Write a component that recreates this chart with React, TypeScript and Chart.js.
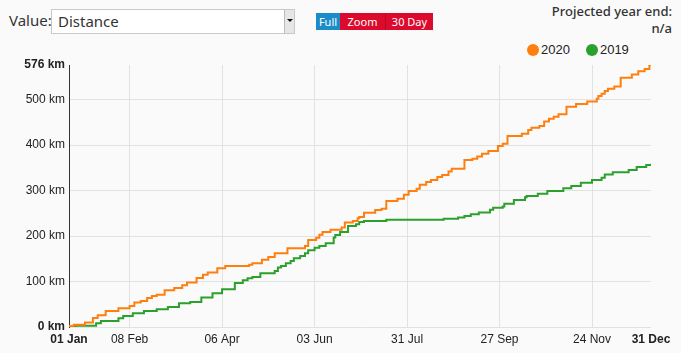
import React, { useEffect, useRef } from 'react';
import { Chart, registerables } from 'chart.js';

Chart.register(...registerables);

// Day of year (0 = 01 Jan) at which each cumulative step occurs, and the total distance (km)
const days2020 = [0, 3, 10, 15, 18, 23, 31, 38, 41, 45, 49, 52, 55, 60, 66, 71, 74, 80, 84, 87, 93, 98, 113, 115, 121, 125, 129, 137, 148, 150, 155, 157, 159, 164, 171, 173, 178, 181, 182, 185, 192, 196, 199, 206, 210, 213, 218, 220, 224, 227, 231, 234, 238, 240, 248, 253, 256, 259, 263, 269, 272, 275, 284, 288, 290, 295, 298, 301, 304, 307, 312, 318, 325, 331, 332, 334, 336, 338, 342, 346, 353, 357, 361, 364, 365];
const km2020 = [2, 5, 10, 20, 26, 35, 41, 46, 54, 57, 64, 68, 71, 81, 86, 92, 98, 108, 115, 120, 129, 134, 137, 140, 148, 154, 162, 173, 178, 191, 196, 203, 209, 214, 219, 230, 233, 239, 242, 251, 257, 260, 277, 282, 291, 299, 304, 313, 319, 323, 330, 334, 342, 348, 367, 370, 375, 381, 387, 398, 403, 420, 425, 433, 438, 442, 452, 458, 462, 468, 484, 490, 496, 502, 508, 513, 519, 524, 529, 548, 555, 562, 567, 576, 576];

const days2019 = [0, 4, 17, 20, 31, 34, 40, 47, 55, 62, 69, 76, 83, 90, 96, 104, 109, 112, 115, 120, 129, 131, 133, 136, 139, 141, 145, 148, 150, 154, 157, 161, 166, 167, 170, 175, 180, 182, 185, 199, 235, 244, 248, 252, 257, 264, 266, 272, 273, 279, 286, 287, 294, 300, 310, 315, 321, 328, 334, 336, 341, 351, 356, 362, 365];
const km2019 = [0, 3, 8, 13, 19, 24, 30, 35, 39, 44, 52, 55, 65, 74, 83, 97, 103, 107, 110, 118, 123, 131, 134, 140, 145, 151, 156, 162, 169, 174, 178, 184, 197, 202, 209, 222, 226, 231, 233, 236, 238, 241, 244, 248, 252, 258, 262, 265, 271, 279, 285, 288, 293, 299, 305, 310, 317, 323, 328, 335, 340, 345, 352, 356, 359];

const seriesNames = ['2020', '2019'];
const seriesColors = ['#ff7f0e', '#2ca02c'];

const xTickDays = [0, 38, 96, 154, 212, 270, 328, 365];
const xTickLabels = ['01 Jan', '08 Feb', '06 Apr', '03 Jun', '31 Jul', '27 Sep', '24 Nov', '31 Dec'];
const yTickValues = [0, 100, 200, 300, 400, 500, 576];
const yUnit = ' km';

const axisFont = '"Liberation Sans", Arial, sans-serif';
const uiFont = '"Noto Sans", "Open Sans", sans-serif';

export default function App() {
  const canvasRef = useRef<HTMLCanvasElement | null>(null);

  useEffect(() => {
    const canvas = canvasRef.current;
    if (!canvas) return;
    const lastX = xTickDays.length - 1;
    const lastY = yTickValues.length - 1;
    const chart = new Chart(canvas, {
      type: 'line',
      data: {
        datasets: [
          {
            label: seriesNames[0],
            data: days2020.map((d, i) => ({ x: d, y: km2020[i] })),
            borderColor: seriesColors[0],
            backgroundColor: seriesColors[0],
            borderWidth: 2,
            stepped: true,
            pointRadius: 0,
            fill: false,
          },
          {
            label: seriesNames[1],
            data: days2019.map((d, i) => ({ x: d, y: km2019[i] })),
            borderColor: seriesColors[1],
            backgroundColor: seriesColors[1],
            borderWidth: 2,
            stepped: true,
            pointRadius: 0,
            fill: false,
          },
        ],
      },
      options: {
        animation: false,
        responsive: false,
        maintainAspectRatio: false,
        layout: { padding: { left: 0, right: 30, top: 25, bottom: 0 } },
        plugins: { legend: { display: false }, tooltip: { enabled: false } },
        scales: {
          x: {
            type: 'linear',
            min: 0,
            max: 365,
            afterBuildTicks: (s: any) => {
              s.ticks = xTickDays.map((v) => ({ value: v }));
            },
            afterFit: (s: any) => {
              s.height = 26;
            },
            ticks: {
              autoSkip: false,
              maxRotation: 0,
              padding: 5,
              color: '#222',
              font: (ctx: any) => ({
                family: axisFont,
                size: 12,
                weight: ctx.index === 0 || ctx.index === lastX ? 'bold' : 'normal',
              }),
              callback: (_v: any, i: number) => xTickLabels[i],
            },
            grid: {
              drawTicks: false,
              lineWidth: 1,
              color: (ctx: any) =>
                ctx.index === 0 || ctx.index === lastX ? 'rgba(0,0,0,0)' : '#e2e2e2',
            },
            border: { display: false },
          },
          y: {
            type: 'linear',
            min: 0,
            max: 576,
            afterBuildTicks: (s: any) => {
              s.ticks = yTickValues.map((v) => ({ value: v }));
            },
            afterFit: (s: any) => {
              s.width = 69;
            },
            ticks: {
              padding: 4,
              color: '#222',
              font: (ctx: any) => ({
                family: axisFont,
                size: 12,
                weight: ctx.index === 0 || ctx.index === lastY ? 'bold' : 'normal',
              }),
              callback: (v: any) => `${v}${yUnit}`,
            },
            grid: {
              drawTicks: false,
              lineWidth: 1,
              color: (ctx: any) => (ctx.index === lastY ? 'rgba(0,0,0,0)' : '#e2e2e2'),
            },
            border: { display: true, color: '#333', width: 1 },
          },
        },
      },
    });
    return () => chart.destroy();
  }, []);

  return (
    <div
      style={{
        position: 'fixed',
        left: 0,
        top: 0,
        width: 681,
        height: 353,
        background: '#fafafa',
        overflow: 'hidden',
        fontFamily: uiFont,
        color: '#333',
      }}
    >
      <div style={{ position: 'absolute', left: 9, top: 10, fontSize: 15, lineHeight: '20px' }}>Value:</div>
      <div
        style={{
          position: 'absolute',
          left: 51,
          top: 9,
          width: 244,
          height: 25,
          background: '#fff',
          border: '1px solid #c8c8c8',
          boxSizing: 'border-box',
        }}
      >
        <div style={{ position: 'absolute', left: 6, top: 1, fontSize: 15, lineHeight: '21px', color: '#333' }}>Distance</div>
        <div
          style={{
            position: 'absolute',
            right: 0,
            top: 0,
            width: 9,
            height: 23,
            background: '#e6e6e6',
            borderLeft: '1px solid #bbb',
          }}
        >
          <div
            style={{
              position: 'absolute',
              left: 2,
              top: 9,
              width: 0,
              height: 0,
              borderLeft: '3px solid transparent',
              borderRight: '3px solid transparent',
              borderTop: '3px solid #111',
            }}
          />
        </div>
      </div>
      <div style={{ position: 'absolute', left: 316, top: 13, height: 17, display: 'flex', fontSize: 11, lineHeight: '17px', color: '#fff' }}>
        <div style={{ width: 24, background: '#1b8cc8', textAlign: 'center' }}>Full</div>
        <div style={{ width: 46, background: '#dc0a2c', textAlign: 'center', borderRight: '1px solid #b50a24', boxSizing: 'border-box' }}>Zoom</div>
        <div style={{ width: 47, background: '#dc0a2c', textAlign: 'center' }}>30 Day</div>
      </div>
      <div style={{ position: 'absolute', right: 9, top: 3, fontSize: 13, lineHeight: '17px', textAlign: 'right', fontWeight: 500 }}>
        <div>Projected year end:</div>
        <div>n/a</div>
      </div>
      <div style={{ position: 'absolute', left: 527, top: 42, display: 'flex', alignItems: 'center', fontFamily: axisFont, fontSize: 13, color: '#222', lineHeight: '16px' }}>
        <span style={{ width: 12, height: 12, borderRadius: 6, background: seriesColors[0], display: 'inline-block', marginRight: 2 }} />
        <span style={{ marginRight: 16 }}>{seriesNames[0]}</span>
        <span style={{ width: 12, height: 12, borderRadius: 6, background: seriesColors[1], display: 'inline-block', marginRight: 2 }} />
        <span>{seriesNames[1]}</span>
      </div>
      <canvas
        ref={canvasRef}
        width={681}
        height={313}
        style={{ position: 'absolute', left: 0, top: 40, width: 681, height: 313, display: 'block' }}
      />
    </div>
  );
}
